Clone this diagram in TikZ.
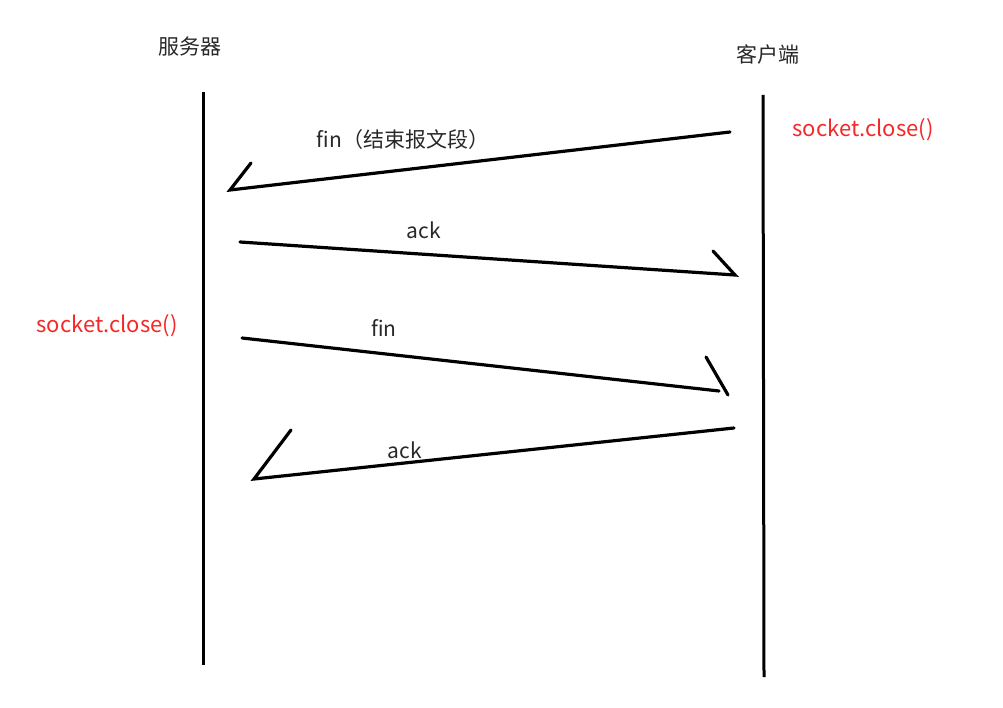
\documentclass[tikz,border=0pt]{standalone}
\usepackage{fontspec}
\setmainfont{Noto Sans CJK SC}
\definecolor{txt}{RGB}{40,40,40}
\definecolor{redtxt}{RGB}{245,40,40}
\tikzset{
  lbl/.style={font=\fontsize{21}{23}\selectfont, text=txt, inner sep=0pt},
  redlbl/.style={font=\fontsize{22}{24}\selectfont, text=redtxt, inner sep=0pt},
  life/.style={line width=3pt, black},
  msg/.style={line width=3.2pt, black, line cap=round},
}
\begin{document}
\begin{tikzpicture}[x=1pt,y=-1pt]
\useasboundingbox[fill=white] (0,0) rectangle (1003,708);
% lifelines
\coordinate (s1) at (203,92);
\coordinate (s2) at (203,665);
\coordinate (c1) at (763,95);
\coordinate (c2) at (764,677);
\draw[life] (s1) -- (s2);
\draw[life] (c1) -- (c2);
% headers
\node[lbl] (server) at (190,47) {服务器};
\node[lbl] (client) at (768,54) {客户端};
\node[redlbl] (cclose) at (863,130) {socket.close()};
\node[redlbl] (sclose) at (107,326) {socket.close()};
% message 1: fin
\coordinate (m1a) at (730,132);
\coordinate (m1b) at (230,190);
\coordinate (m1h) at (251,163);
\draw[msg] (m1a) -- (m1b) -- (m1h);
\node[lbl] (m1l) at (403,140) {fin（结束报文段）};
% message 2: ack
\coordinate (m2a) at (240,242);
\coordinate (m2b) at (735,275);
\coordinate (m2h) at (713,251);
\draw[msg] (m2a) -- (m2b) -- (m2h);
\node[lbl] (m2l) at (424,230) {ack};
% message 3: fin
\coordinate (m3a) at (242,338);
\coordinate (m3b) at (719,391);
\coordinate (m3h1) at (706,357);
\coordinate (m3h2) at (728,395);
\draw[msg] (m3a) -- (m3b);
\draw[msg] (m3h1) -- (m3h2);
\node[lbl] (m3l) at (384,328) {fin};
% message 4: ack
\coordinate (m4a) at (734,428);
\coordinate (m4b) at (254,479);
\coordinate (m4h) at (291,430);
\draw[msg] (m4a) -- (m4b) -- (m4h);
\node[lbl] (m4l) at (405,450) {ack};
\end{tikzpicture}
\end{document}
